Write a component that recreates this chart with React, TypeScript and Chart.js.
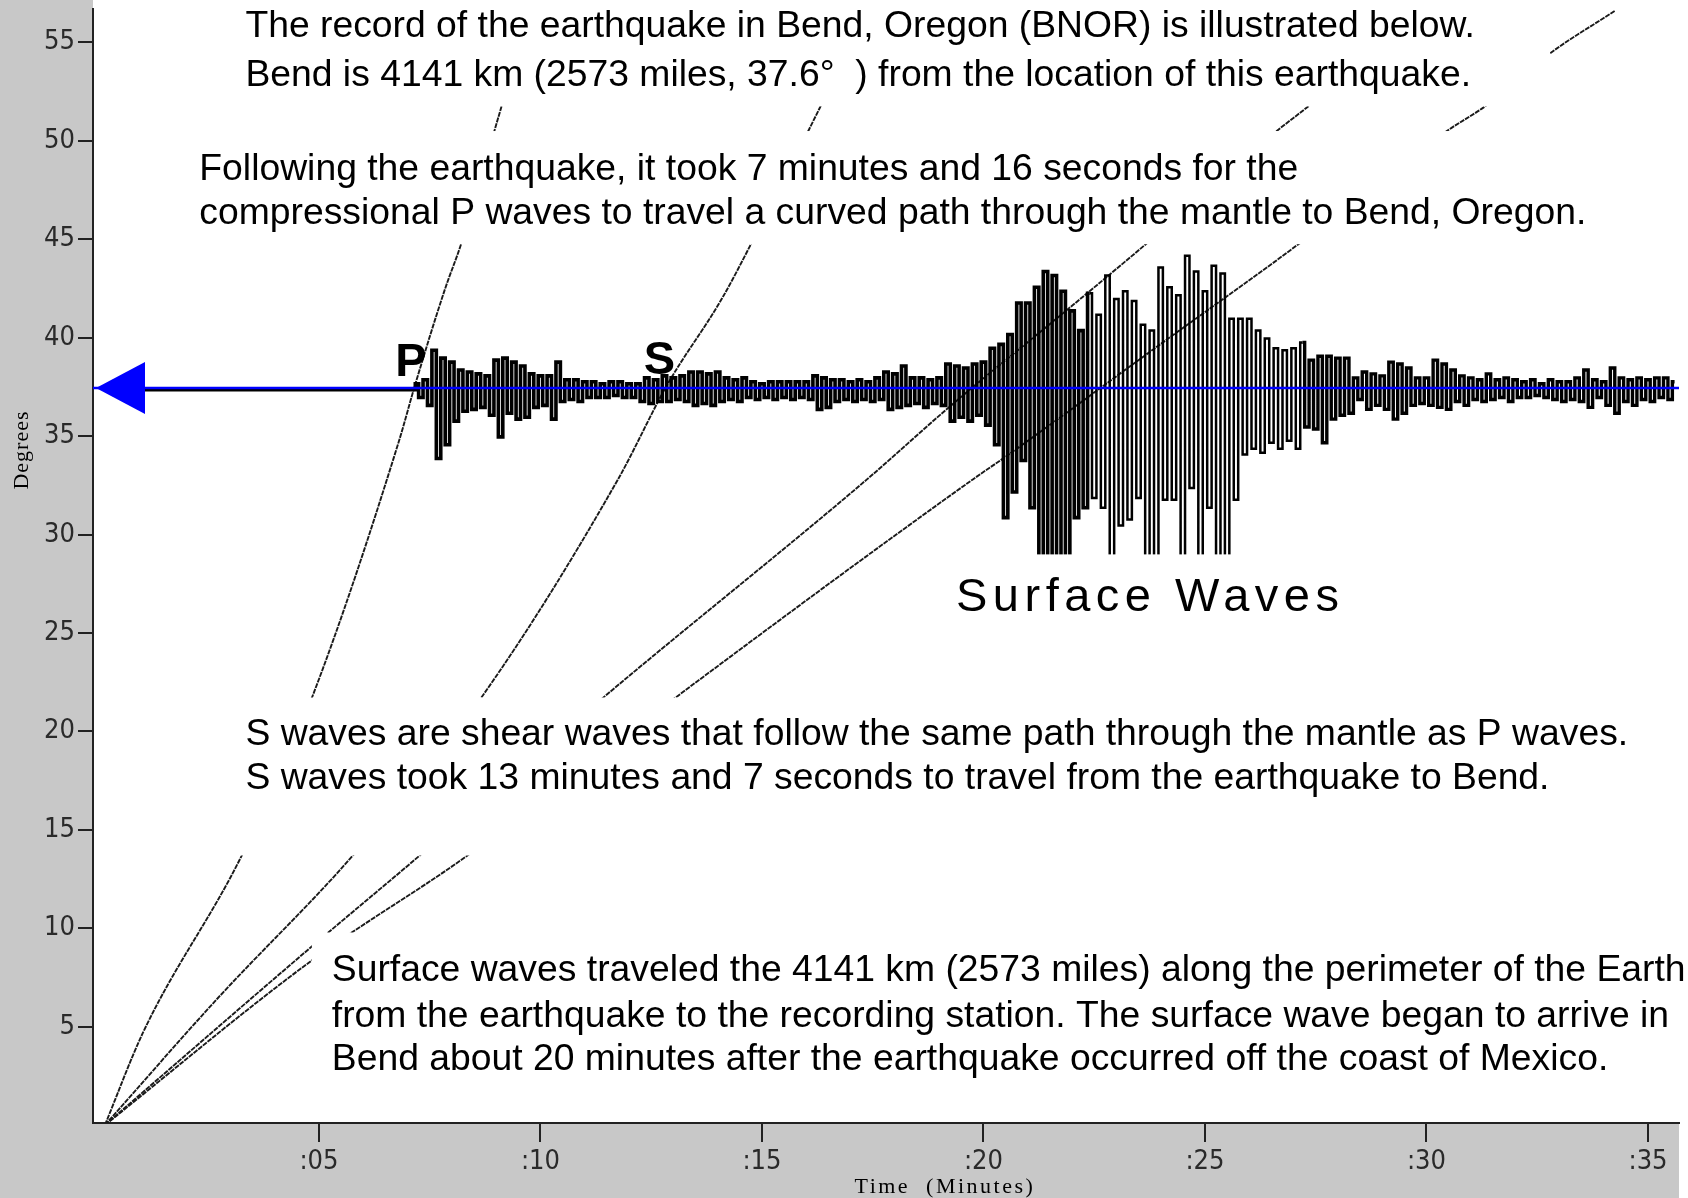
import { useEffect, useRef } from 'react';
import { Chart, registerables } from 'chart.js';

Chart.register(...registerables);

// ---- axis ticks ----
const timeTicks = [5, 10, 15, 20, 25, 30, 35];
const degreeTicks = [5, 10, 15, 20, 25, 30, 35, 40, 45, 50, 55];

// ---- station (Bend, Oregon) ----
const stationDegrees = 37.44;

// ---- travel-time curves (minutes, degrees) ----
const pTimes = [0.17, 1.03, 3.26, 4.84, 6.8, 7.17, 7.85, 8.2, 9.05, 9.75];
const pDegrees = [0, 4.7, 13.7, 21.7, 34.7, 37.6, 42.5, 44.7, 51.2, 56.7];
const sTimes = [0.17, 2.7, 5.77, 8.66, 11.75, 12.86, 14.1, 14.74, 16.2, 17.4];
const sDegrees = [0, 6.4, 13.7, 21.7, 32.8, 37.6, 42.0, 44.7, 51.2, 56.7];
const loveTimes = [0.17, 4.84, 7.28, 11.41, 17.37, 19.24, 21.88, 23.69, 26.62, 27.33, 29.95];
const loveDegrees = [0, 9.07, 13.7, 21.7, 32.8, 36.5, 41.4, 44.8, 50.5, 51.75, 56.7];
const rayleighTimes = [0.17, 4.84, 8.36, 13.04, 19.76, 20.53, 23.83, 27.14, 30.46, 31.32, 32.79, 34.25];
const rayleighDegrees = [0, 8.36, 13.7, 21.7, 32.8, 34.0, 39.4, 44.8, 50.5, 51.75, 54.45, 56.6];

// ---- seismogram (BNOR), amplitude offsets in degrees, sampled every 0.1 min from 7.2 min ----
const traceStart = 7.2;
const traceStep = 0.1;
const traceQuietStart = 0.17;
const traceValues = [
  0.3, -0.4, 0.5, -0.8, 2.0, -3.5, 1.6, -2.8, 1.4, -1.6,
  1.0, -1.1, 0.9, -1.0, 0.8, -0.9, 0.7, -1.3, 1.5, -2.4,
  1.6, -1.2, 1.4, -1.5, 1.2, -1.4, 0.8, -0.9, 0.7, -0.8,
  0.7, -1.5, 1.4, -0.6, 0.5, -0.5, 0.5, -0.6, 0.4, -0.4,
  0.4, -0.4, 0.3, -0.4, 0.4, -0.3, 0.4, -0.4, 0.3, -0.4,
  0.3, -0.6, 0.6, -0.7, 0.5, -0.6, 0.7, -0.6, 0.6, -0.5,
  0.7, -0.6, 0.9, -0.8, 0.9, -0.7, 0.8, -0.8, 0.9, -0.6,
  0.6, -0.5, 0.5, -0.6, 0.6, -0.4, 0.4, -0.5, 0.3, -0.4,
  0.4, -0.5, 0.4, -0.4, 0.4, -0.5, 0.4, -0.4, 0.4, -0.5,
  0.7, -1.0, 0.6, -0.9, 0.5, -0.6, 0.5, -0.5, 0.4, -0.6,
  0.5, -0.5, 0.4, -0.6, 0.6, -0.5, 0.9, -1.0, 0.8, -0.9,
  1.2, -0.8, 0.6, -0.7, 0.6, -0.9, 0.5, -0.7, 0.6, -0.8,
  1.3, -1.6, 1.2, -1.4, 1.1, -1.6, 1.3, -1.3, 1.4, -1.8,
  2.1, -2.8, 2.3, -6.5, 2.8, -5.2, 4.4, -3.6, 4.4, -6.0,
  5.2, -9.0, 6.0, -9.0, 5.8, -9.0, 5.0, -9.0, 4.0, -6.5,
  3.0, -6.0, 4.9, -5.5, 3.8, -6.0, 5.8, -9.0, 4.6, -6.9,
  5.0, -6.6, 4.5, -5.5, 3.3, -9.0, 3.0, -9.0, 6.2, -5.6,
  5.2, -5.6, 4.8, -9.0, 6.8, -5.0, 6.0, -9.0, 5.0, -6.0,
  6.3, -9.0, 5.9, -9.0, 3.6, -5.6, 3.6, -3.3, 3.6, -3.0,
  3.0, -3.2, 2.6, -2.7, 2.1, -3.0, 2.0, -2.6, 2.1, -3.0,
  2.4, -1.9, 1.5, -2.0, 1.7, -2.7, 1.7, -1.5, 1.6, -1.3,
  1.6, -1.2, 0.6, -0.5, 0.9, -1.0, 0.8, -0.8, 0.7, -1.0,
  1.4, -1.5, 1.3, -1.2, 1.1, -0.8, 0.6, -0.7, 0.6, -0.8,
  1.5, -0.9, 1.3, -1.0, 1.0, -0.6, 0.7, -0.8, 0.6, -0.5,
  0.5, -0.6, 0.8, -0.5, 0.5, -0.4, 0.6, -0.6, 0.5, -0.4,
  0.4, -0.4, 0.5, -0.3, 0.3, -0.4, 0.5, -0.5, 0.4, -0.6,
  0.4, -0.5, 0.6, -0.6, 1.0, -0.9, 0.5, -0.4, 0.4, -0.8,
  1.1, -1.2, 0.6, -0.6, 0.5, -0.8, 0.6, -0.5, 0.5, -0.6,
  0.6, -0.4, 0.6, -0.5, 0.4,
];
// time window (minutes) where the long-period surface waves show as open bars
const surfaceWindow = [22.4, 27.2];

// ---- annotation text ----
const noteTexts = [
  'The record of the earthquake in Bend, Oregon (BNOR) is illustrated below.',
  'Bend is 4141 km (2573 miles, 37.6\u00B0  ) from the location of this earthquake.',
  'Following the earthquake, it took 7 minutes and 16 seconds for the',
  'compressional P waves to travel a curved path through the mantle to Bend, Oregon.',
  'S waves are shear waves that follow the same path through the mantle as P waves.',
  'S waves took 13 minutes and 7 seconds to travel from the earthquake to Bend.',
  'Surface waves traveled the 4141 km (2573 miles) along the perimeter of the Earth',
  'from the earthquake to the recording station. The surface wave began to arrive in',
  'Bend about 20 minutes after the earthquake occurred off the coast of Mexico.',
];
const surfaceLabel = 'Surface Waves';
const pLabel = 'P';
const sLabel = 'S';
const xTitle = 'Time  (Minutes)';
const yTitle = 'Degrees';

// layout (data-space anchors for annotation placement: text baselines)
const noteAnchors = [
  [3.34, 55.3], [3.34, 52.8], [2.3, 48.03], [2.3, 45.8],
  [3.34, 19.33], [3.34, 17.05], [5.29, 7.3], [5.29, 5.0], [5.29, 2.78],
];
// white text backgrounds [t0, t1, d0, d1]
const maskBoxes = [
  [3.1, 32.79, 51.75, 60],
  [2.09, 33.9, 44.75, 50.5],
  [2.31, 36, 13.69, 21.72],
  [4.84, 36, 1.55, 9.78],
  [19.02, 28.5, 25.07, 28.99],
];

const toPoints = (ts: number[], ds: number[]) => ts.map((t, i) => ({ x: t, y: ds[i] }));

function buildTrace() {
  const base = stationDegrees - 0.08;
  const pts = [{ x: traceQuietStart, y: base }, { x: traceStart - 0.05, y: base }];
  traceValues.forEach((v, i) => pts.push({ x: traceStart + i * traceStep, y: base + v }));
  return pts;
}

function splitTrace() {
  const pts = buildTrace();
  const [a, b] = surfaceWindow;
  const eps = 0.051;
  return {
    early: pts.filter((p) => p.x <= a + eps),
    surface: pts.filter((p) => p.x >= a - eps && p.x <= b + eps),
    coda: pts.filter((p) => p.x >= b - eps),
  };
}

const tickFont = { family: "'Liberation Sans Narrow', 'DejaVu Sans Condensed', 'Liberation Sans', sans-serif", size: 27 };

const overlayPlugin = {
  id: 'overlay',
  beforeDraw(chart: any) {
    const { ctx, width, height, chartArea } = chart;
    ctx.save();
    ctx.fillStyle = '#ffffff';
    ctx.fillRect(0, 0, width, height);
    ctx.fillStyle = '#c8c8c8';
    ctx.fillRect(0, 0, chartArea.left, height);
    ctx.fillRect(0, chartArea.bottom, chartArea.right, height - chartArea.bottom);
    ctx.restore();
  },
  afterDatasetsDraw(chart: any) {
    const { ctx, chartArea, scales } = chart;
    const xs = scales.x;
    const ys = scales.y;
    ctx.save();
    ctx.beginPath();
    ctx.rect(chartArea.left + 1, chartArea.top, chartArea.right - chartArea.left, chartArea.bottom - chartArea.top - 1);
    ctx.clip();
    ctx.fillStyle = '#ffffff';
    maskBoxes.forEach(([t0, t1, d0, d1]) => {
      const x0 = xs.getPixelForValue(t0);
      const x1 = xs.getPixelForValue(t1);
      const y0 = ys.getPixelForValue(d1);
      const y1 = ys.getPixelForValue(d0);
      ctx.fillRect(x0, y0, x1 - x0, y1 - y0);
    });
    ctx.restore();

    // station arrow
    ctx.save();
    const ay = ys.getPixelForValue(stationDegrees);
    const ax = chartArea.left + 3;
    ctx.fillStyle = '#0000ff';
    ctx.beginPath();
    ctx.moveTo(ax, ay);
    ctx.lineTo(ax + 49, ay - 26);
    ctx.lineTo(ax + 49, ay + 26);
    ctx.closePath();
    ctx.fill();

    // notes
    ctx.fillStyle = '#000000';
    ctx.textBaseline = 'alphabetic';
    ctx.textAlign = 'left';
    ctx.font = "37.3px 'Liberation Sans', Arial, sans-serif";
    noteTexts.forEach((txt, i) => {
      const [t, d] = noteAnchors[i];
      ctx.fillText(txt, xs.getPixelForValue(t), ys.getPixelForValue(d));
    });
    ctx.font = "47px 'Liberation Sans', Arial, sans-serif";
    (ctx as any).letterSpacing = '5.5px';
    ctx.fillText(surfaceLabel, xs.getPixelForValue(19.38), ys.getPixelForValue(26.1));
    (ctx as any).letterSpacing = '0px';
    ctx.font = "bold 47px 'Liberation Sans', Arial, sans-serif";
    ctx.fillText(pLabel, xs.getPixelForValue(6.72), ys.getPixelForValue(38.05));
    ctx.fillText(sLabel, xs.getPixelForValue(12.33), ys.getPixelForValue(38.15));

    // axis titles
    ctx.fillStyle = '#000000';
    ctx.font = "22px 'Liberation Serif', 'Times New Roman', serif";
    ctx.textAlign = 'center';
    ctx.textBaseline = 'middle';
    (ctx as any).letterSpacing = '2.5px';
    ctx.fillText(xTitle, xs.getPixelForValue(19.13), 1187);
    (ctx as any).letterSpacing = '1px';
    ctx.translate(22, 450);
    ctx.rotate(-Math.PI / 2);
    ctx.fillText(yTitle, 0, 0);
    ctx.restore();
  },
};

export default function App() {
  const ref = useRef<HTMLCanvasElement>(null);
  useEffect(() => {
    document.body.style.margin = '0';
    const curveStyle = {
      showLine: true,
      pointRadius: 0,
      borderColor: '#1a1a1a',
      borderWidth: 1.9,
      borderDash: [5, 1],
      cubicInterpolationMode: 'monotone' as const,
      order: 3,
    };
    const traceStyle = {
      showLine: true,
      pointRadius: 0,
      borderColor: '#000000',
      stepped: 'middle',
      borderJoinStyle: 'miter',
      order: 1,
    };
    const trace = splitTrace();
    const chart = new Chart(ref.current as HTMLCanvasElement, {
      type: 'scatter',
      data: {
        datasets: [
          {
            label: 'Station',
            data: [{ x: -0.1, y: stationDegrees }, { x: 35.7, y: stationDegrees }],
            showLine: true,
            pointRadius: 0,
            borderColor: '#0000ff',
            borderWidth: 2.5,
            order: 0,
          },
          { label: 'BNOR body waves', data: trace.early, borderWidth: 3.6, ...traceStyle },
          { label: 'BNOR surface waves', data: trace.surface, borderWidth: 2.5, ...traceStyle },
          { label: 'BNOR coda', data: trace.coda, borderWidth: 3.4, ...traceStyle },
          { label: 'P', data: toPoints(pTimes, pDegrees), ...curveStyle },
          { label: 'S', data: toPoints(sTimes, sDegrees), ...curveStyle },
          { label: 'Love', data: toPoints(loveTimes, loveDegrees), ...curveStyle },
          { label: 'Rayleigh', data: toPoints(rayleighTimes, rayleighDegrees), ...curveStyle },
        ] as any,
      },
      options: {
        animation: false,
        responsive: false,
        devicePixelRatio: 1,
        layout: { padding: { top: 9, right: 9, left: 0, bottom: 0 } },
        plugins: { legend: { display: false }, tooltip: { enabled: false } },
        scales: {
          x: {
            type: 'linear',
            min: -0.1,
            max: 35.7,
            afterBuildTicks: (s: any) => {
              s.ticks = timeTicks.map((v) => ({ value: v }));
            },
            afterFit: (s: any) => {
              s.height = 75;
              s.paddingLeft = 0;
              s.paddingRight = 0;
            },
            ticks: {
              autoSkip: false,
              maxRotation: 0,
              padding: 4,
              color: '#2a2a2a',
              font: tickFont,
              callback: (v: any) => ':' + String(v).padStart(2, '0'),
            },
            grid: { drawOnChartArea: false, tickLength: 19, color: '#222', lineWidth: 2 },
            border: { color: '#222', width: 2 },
          },
          y: {
            type: 'linear',
            min: 0.1,
            max: 56.7,
            afterBuildTicks: (s: any) => {
              s.ticks = degreeTicks.map((v) => ({ value: v }));
            },
            afterFit: (s: any) => {
              s.width = 93;
              s.paddingTop = 0;
              s.paddingBottom = 0;
            },
            ticks: {
              autoSkip: false,
              padding: 3,
              color: '#2a2a2a',
              font: tickFont,
              callback: (v: any) => String(v),
            },
            grid: { drawOnChartArea: false, tickLength: 15, color: '#222', lineWidth: 2 },
            border: { color: '#222', width: 2 },
          },
        },
      } as any,
      plugins: [overlayPlugin],
    });
    return () => chart.destroy();
  }, []);
  return (
    <div style={{ width: 1688, height: 1198 }}>
      <canvas ref={ref} width={1688} height={1198} style={{ display: 'block' }} />
    </div>
  );
}
